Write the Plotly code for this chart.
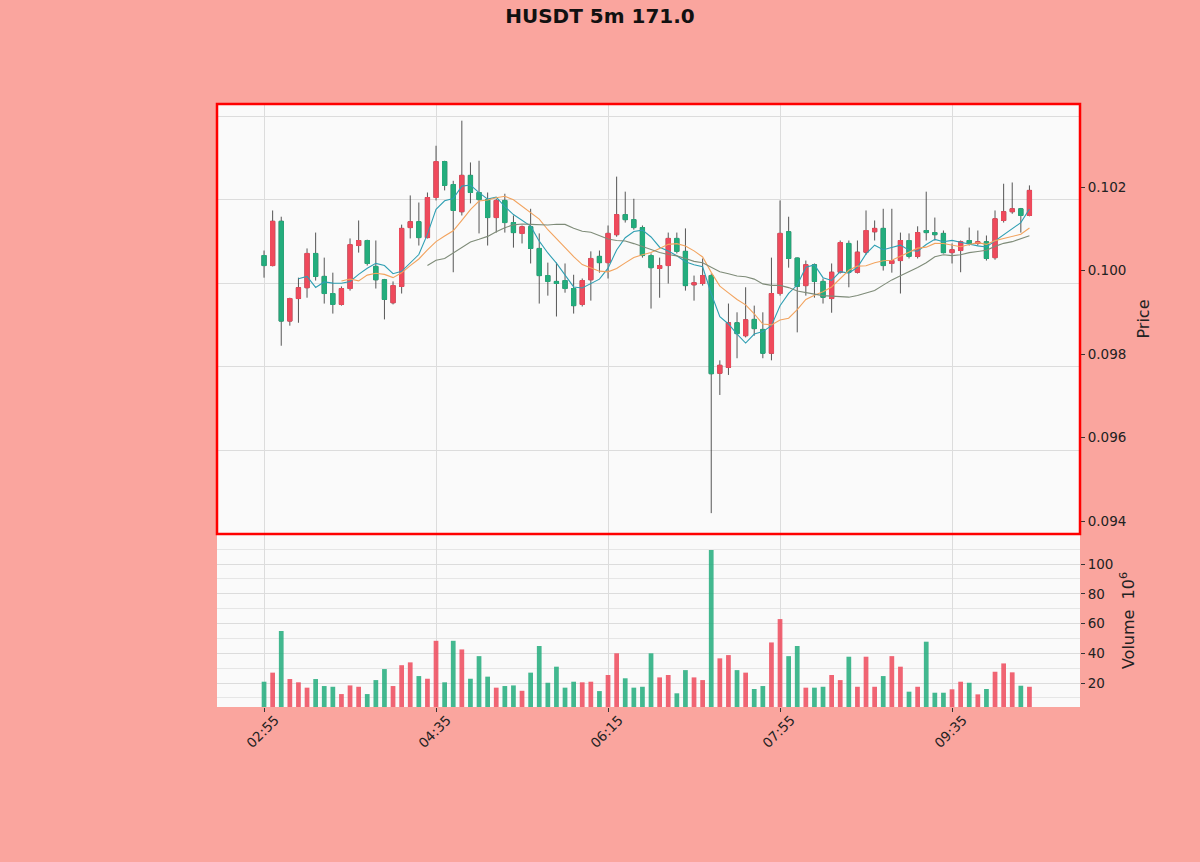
import pandas as pd
import plotly.graph_objects as go
from plotly.subplots import make_subplots

# 5m candles, first one at 02:55
tick_pos = [0, 20, 40, 60, 80]
tick_labels = ["02:55", "04:35", "06:15", "07:55", "09:35"]

opens = [0.10036, 0.10012, 0.10118, 0.09879, 0.09933, 0.09959, 0.10041, 0.09986, 0.09945, 0.09919,
         0.09957, 0.10060, 0.10072, 0.10010, 0.09978, 0.09923, 0.09962, 0.10103, 0.10117, 0.10079,
         0.10175, 0.10261, 0.10206, 0.10141, 0.10228, 0.10187, 0.10170, 0.10127, 0.10168, 0.10115,
         0.10089, 0.10105, 0.10053, 0.09988, 0.09974, 0.09976, 0.09957, 0.09919, 0.09978, 0.10034,
         0.10019, 0.10086, 0.10134, 0.10122, 0.10103, 0.10036, 0.10005, 0.10012, 0.10077, 0.10046,
         0.09966, 0.09969, 0.09988, 0.09754, 0.09768, 0.09875, 0.09844, 0.09883, 0.09859, 0.09802,
         0.09945, 0.10093, 0.10030, 0.09964, 0.10014, 0.09974, 0.09933, 0.09996, 0.10065, 0.09996,
         0.10044, 0.10093, 0.10101, 0.10017, 0.10024, 0.10072, 0.10034, 0.10096, 0.10091, 0.10089,
         0.10043, 0.10048, 0.10072, 0.10065, 0.10069, 0.10031, 0.10120, 0.10141, 0.10148, 0.10132]
highs = [0.10048, 0.10144, 0.10129, 0.09935, 0.09983, 0.10053, 0.10091, 0.10031, 0.09995, 0.09962,
         0.10077, 0.10120, 0.10074, 0.10072, 0.09980, 0.09974, 0.10110, 0.10180, 0.10163, 0.10187,
         0.10299, 0.10263, 0.10215, 0.10359, 0.10259, 0.10263, 0.10187, 0.10172, 0.10184, 0.10132,
         0.10108, 0.10148, 0.10089, 0.10019, 0.10019, 0.10017, 0.09990, 0.09981, 0.10046, 0.10048,
         0.10108, 0.10225, 0.10189, 0.10172, 0.10108, 0.10041, 0.10031, 0.10091, 0.10091, 0.10101,
         0.09988, 0.10029, 0.09993, 0.09785, 0.09921, 0.09900, 0.09960, 0.09916, 0.09900, 0.10031,
         0.10168, 0.10129, 0.10031, 0.10024, 0.10017, 0.09981, 0.10017, 0.10072, 0.10072, 0.10072,
         0.10144, 0.10120, 0.10148, 0.10148, 0.10091, 0.10089, 0.10106, 0.10189, 0.10127, 0.10096,
         0.10065, 0.10072, 0.10103, 0.10096, 0.10084, 0.10144, 0.10208, 0.10211, 0.10150, 0.10204]
lows = [0.09983, 0.10010, 0.09820, 0.09868, 0.09875, 0.09935, 0.09976, 0.09921, 0.09897, 0.09916,
        0.09952, 0.10043, 0.10012, 0.09957, 0.09883, 0.09919, 0.09945, 0.10077, 0.10060, 0.10077,
        0.10168, 0.10192, 0.09996, 0.10132, 0.10161, 0.10089, 0.10060, 0.10091, 0.10091, 0.10055,
        0.10065, 0.10017, 0.09921, 0.09940, 0.09890, 0.09947, 0.09897, 0.09914, 0.09928, 0.09995,
        0.09981, 0.10081, 0.10115, 0.10098, 0.10031, 0.09909, 0.09935, 0.09969, 0.10041, 0.09952,
        0.09928, 0.09964, 0.09419, 0.09702, 0.09750, 0.09790, 0.09840, 0.09844, 0.09790, 0.09785,
        0.09940, 0.10007, 0.09852, 0.09940, 0.09935, 0.09921, 0.09899, 0.09993, 0.09960, 0.09993,
        0.10038, 0.10072, 0.10000, 0.09995, 0.09945, 0.10029, 0.10029, 0.10072, 0.10072, 0.10041,
        0.10017, 0.09996, 0.10060, 0.10060, 0.10024, 0.10026, 0.10115, 0.10136, 0.10091, 0.10130]
closes = [0.10012, 0.10118, 0.09879, 0.09933, 0.09959, 0.10041, 0.09986, 0.09945, 0.09919, 0.09957,
          0.10062, 0.10072, 0.10017, 0.09978, 0.09931, 0.09964, 0.10101, 0.10117, 0.10079, 0.10175,
          0.10261, 0.10204, 0.10144, 0.10228, 0.10187, 0.10170, 0.10127, 0.10168, 0.10115, 0.10091,
          0.10105, 0.10053, 0.09988, 0.09974, 0.09969, 0.09957, 0.09916, 0.09976, 0.10029, 0.10019,
          0.10089, 0.10134, 0.10122, 0.10103, 0.10036, 0.10007, 0.10012, 0.10077, 0.10046, 0.09964,
          0.09971, 0.09988, 0.09753, 0.09773, 0.09875, 0.09849, 0.09882, 0.09861, 0.09802, 0.09945,
          0.10089, 0.10029, 0.09962, 0.10014, 0.09974, 0.09936, 0.09996, 0.10067, 0.09996, 0.10044,
          0.10096, 0.10101, 0.10012, 0.10024, 0.10072, 0.10034, 0.10091, 0.10091, 0.10086, 0.10043,
          0.10050, 0.10069, 0.10065, 0.10069, 0.10029, 0.10124, 0.10141, 0.10148, 0.10132, 0.10192]
# volume in millions
volumes = [20.9, 27, 55, 22.7, 20.5, 16.9, 22.7, 18, 17.5, 12.6,
           18.4, 17.5, 12.6, 22, 29.4, 18, 32, 33.9, 24.7, 22.9,
           48.4, 20.5, 48.4, 42.6, 22.9, 38.1, 24.3, 16.9, 18, 18.4,
           14.8, 27, 44.9, 20.2, 31, 16.9, 20.9, 20.5, 20.9, 14.6,
           25.4, 40, 23.2, 16.9, 17.5, 40, 23.8, 25.4, 13.1, 28.7,
           23.8, 22, 109.4, 36.6, 38.8, 28.7, 27, 16, 18, 47.3,
           63, 38.1, 44.9, 16.9, 16.9, 17.5, 25.4, 22, 37.7, 17.5,
           37.7, 17.5, 24.7, 38.1, 31, 14.2, 17.5, 47.8, 13.5, 13.5,
           15.8, 20.9, 20.2, 12.4, 16, 27.6, 33.2, 27.2, 18.2, 17.5]
mav_periods = [5, 10, 20]
mav_colors = ["#2f9fb3", "#f2a35e", "#7e8b78"]

UP = "#ef4a5c"
DOWN = "#23ad7d"
BG = "#faa59e"

df = pd.DataFrame({"open": opens, "high": highs, "low": lows, "close": closes, "volume": volumes})
df["x"] = range(len(df))
up = df["close"] >= df["open"]
vol_colors = [UP if u else DOWN for u in up]

vol_frac = 173 / 603

fig = make_subplots(rows=2, cols=1, shared_xaxes=True, vertical_spacing=0,
                    row_heights=[1 - vol_frac, vol_frac])

# wicks (dark) first, bodies on top
fig.add_trace(go.Candlestick(
    x=df["x"], open=df["open"], high=df["high"], low=df["low"], close=df["close"],
    increasing=dict(line=dict(color="#2b2b2b", width=0.8), fillcolor="#2b2b2b"),
    decreasing=dict(line=dict(color="#2b2b2b", width=0.8), fillcolor="#2b2b2b"),
    showlegend=False, hoverinfo="skip"), row=1, col=1)
fig.add_trace(go.Candlestick(
    x=df["x"], open=df["open"], close=df["close"],
    high=df[["open", "close"]].max(axis=1), low=df[["open", "close"]].min(axis=1),
    increasing=dict(line=dict(color=UP, width=1), fillcolor=UP),
    decreasing=dict(line=dict(color=DOWN, width=1), fillcolor=DOWN),
    showlegend=False), row=1, col=1)

# moving averages go on the overlay price axis (the one carrying the labels)
for p, c in zip(mav_periods, mav_colors):
    fig.add_trace(go.Scatter(x=df["x"], y=df["close"].rolling(p).mean(), mode="lines",
                             line=dict(color=c, width=1.1), showlegend=False,
                             hoverinfo="skip", xaxis="x", yaxis="y3"))

fig.add_trace(go.Bar(x=df["x"], y=df["volume"], marker=dict(color=vol_colors, line_width=0),
                     width=0.55, opacity=0.85, showlegend=False), row=2, col=1)

grid = "#dcdcdc"
font = dict(family="DejaVu Sans", size=13.5, color="#222222")
price_range = [0.09369, 0.10399]

fig.update_layout(
    width=1200, height=862,
    paper_bgcolor=BG, plot_bgcolor="#fafafa",
    margin=dict(l=217, r=120, t=104, b=155),
    font=font,
    title=dict(text="<b>HUSDT 5m 171.0</b>", x=0.5, xanchor="center", y=0.981,
               yanchor="middle", font=dict(family="DejaVu Sans", size=20, color="#111")),
    bargap=0.4,
)

fig.update_xaxes(range=[-5.47, 94.88], tickvals=tick_pos, ticktext=tick_labels,
                 showgrid=True, gridcolor=grid, gridwidth=1, zeroline=False,
                 rangeslider_visible=False, showline=False)
fig.update_xaxes(showticklabels=False, ticks="", row=1, col=1)
fig.update_xaxes(ticks="outside", ticklen=4, tickcolor="#333", tickangle=-45,
                 ticklabelshift=11, ticklabelstandoff=-5, row=2, col=1)

# price panel: grid lines sit between the labelled ticks, labels come from the overlay axis
fig.update_yaxes(side="right", range=price_range, tick0=0.0957, dtick=0.002,
                 showgrid=True, gridcolor=grid, showticklabels=False, ticks="",
                 zeroline=False, row=1, col=1)
fig.update_layout(yaxis3=dict(overlaying="y", anchor="x", side="right", range=price_range,
                              tick0=0.094, dtick=0.002, tickformat=".3f", showgrid=False,
                              zeroline=False, ticks="outside", ticklen=4, tickcolor="#333",
                              title=dict(text="Price", standoff=12)))
fig.update_yaxes(side="right", range=[3.9, 120.2], tickvals=[20, 40, 60, 80, 100],
                 showgrid=True, gridcolor=grid, zeroline=False,
                 minor=dict(dtick=10, tick0=0, showgrid=True, gridcolor="#e6e6e6"),
                 ticks="outside", ticklen=4, tickcolor="#333",
                 title=dict(text="Volume  10<sup>6</sup>", standoff=10), row=2, col=1)

# red frame round the price panel
fig.add_shape(type="rect", xref="paper", yref="paper", x0=0, x1=1, y0=vol_frac, y1=1,
              line=dict(color="#ff0000", width=2.5), fillcolor="rgba(0,0,0,0)")

fig.write_html("out.html", config={"displayModeBar": False},
               post_script="document.body.style.margin='0';"
                           "document.body.style.background='%s';" % BG)
